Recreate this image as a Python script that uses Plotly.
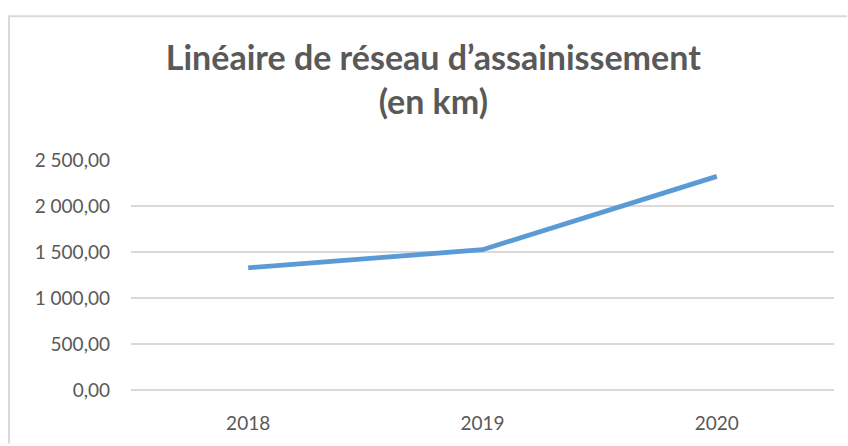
import plotly.graph_objects as go

years = ["2018", "2019", "2020"]
lengths_km = [1328, 1525, 2322]
y_ticks = [0, 500, 1000, 1500, 2000, 2500]

W, H = 848, 446
L, R, T, B = 131, 14, 160, 54
pw, ph = W - L - R, H - T - B


def px(x):
    return (x - L) / pw


def py(y):
    return (H - B - y) / ph


FONT = "Lato"
GREY = "#595959"

fig = go.Figure()
fig.add_trace(go.Scatter(
    x=years, y=lengths_km, mode="lines",
    line=dict(color="#5B9BD5", width=4.8, shape="linear"),
    hoverinfo="x+y",
))

fig.update_layout(
    width=W, height=H,
    margin=dict(l=L, r=R, t=T, b=B),
    paper_bgcolor="white", plot_bgcolor="white",
    separators=", ",
    showlegend=False,
    title=dict(
        text="<b>Linéaire de réseau d’assainissement<br>(en km)</b>",
        x=0.511, xanchor="center", y=(H - 70) / H, yanchor="middle",
        font=dict(family=FONT, size=34, color=GREY),
    ),
    xaxis=dict(
        type="category", range=[-0.5, 2.5],
        showgrid=False, zeroline=False, showline=False,
        ticks="", ticklabelstandoff=20,
        tickfont=dict(family=FONT, size=19, color=GREY),
    ),
    yaxis=dict(
        range=[0, 2500], tickvals=y_ticks, tickformat=",.2f",
        showgrid=True, gridcolor="#D9D9D9", gridwidth=1.5,
        zeroline=True, zerolinecolor="#D9D9D9", zerolinewidth=1.5,
        showline=False, ticks="", ticklabelstandoff=20,
        tickfont=dict(family=FONT, size=19, color=GREY),
    ),
    shapes=[
        dict(type="path", xref="paper", yref="paper", layer="below",
             path=f"M {px(9)},{py(446)} L {px(9)},{py(15)} L {px(847)},{py(15)}",
             line=dict(color="#D9D9D9", width=2)),
    ],
)

fig.write_html(
    "out.html",
    config={"displayModeBar": False},
    post_script="document.body.style.margin='0';document.body.style.overflow='hidden';",
)
